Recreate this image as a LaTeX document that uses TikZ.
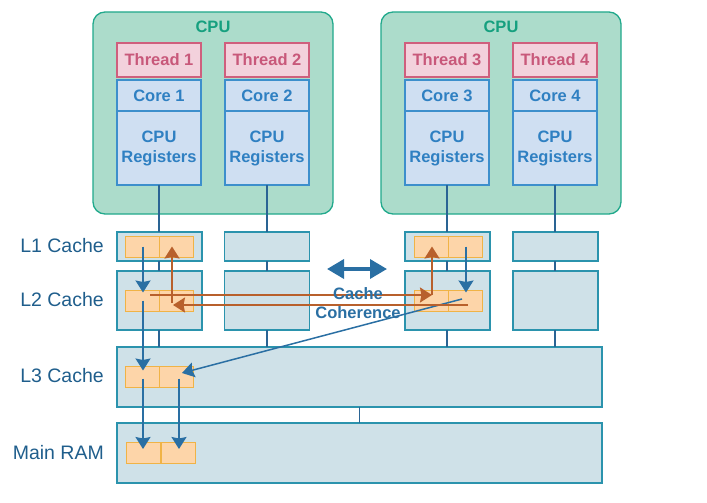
\documentclass[tikz,border=0pt]{standalone}
\usepackage{fontspec}
\setmainfont{Liberation Sans}
\usetikzlibrary{arrows.meta}
\definecolor{cpufill}{HTML}{ACDCCB}
\definecolor{cpuline}{HTML}{21A98C}
\definecolor{cputext}{HTML}{16A07F}
\definecolor{thrfill}{HTML}{F3D1DC}
\definecolor{thrline}{HTML}{CF5F7D}
\definecolor{thrtext}{HTML}{C8587A}
\definecolor{corefill}{HTML}{CFDFF2}
\definecolor{coreline}{HTML}{3D8FCC}
\definecolor{coretext}{HTML}{2F80C2}
\definecolor{cachefill}{HTML}{CFE1E8}
\definecolor{cacheline}{HTML}{2B93AD}
\definecolor{cellfill}{HTML}{FDD5A9}
\definecolor{cellline}{HTML}{F0B346}
\definecolor{arrblue}{HTML}{2A6FA3}
\definecolor{arrorange}{HTML}{B8602C}
\definecolor{wire}{HTML}{2A6494}
\definecolor{lbltext}{HTML}{1F5E8C}
\tikzset{
  box/.style = {draw, line width=1.3pt, inner sep=0pt, outer sep=0pt, font=\fontsize{16.5}{20}\selectfont\bfseries},
  cpu/.style = {box, draw=cpuline, fill=cpufill, rounded corners=12pt, minimum width=240pt, minimum height=202pt},
  thread/.style = {box, draw=thrline, fill=thrfill, text=thrtext, minimum width=84pt, minimum height=34pt},
  core/.style = {box, draw=coreline, fill=corefill, text=coretext, minimum width=84pt, minimum height=31pt},
  regs/.style = {core, minimum height=74pt, align=center},
  cache/.style = {box, draw=cacheline, fill=cachefill},
  cell/.style = {draw=cellline, fill=cellfill, line width=1pt, inner sep=0pt, minimum width=34pt, minimum height=21pt},
  level/.style = {anchor=east, inner sep=0pt, text=lbltext, font=\fontsize{19.5}{22}\selectfont},
  wires/.style = {draw=wire, line width=1.3pt},
  tip/.style = {-{Stealth[length=12pt, width=15pt, inset=1.5pt]}},
  bluearrow/.style = {draw=arrblue, line width=1.5pt, tip},
  orangearrow/.style = {draw=arrorange, line width=2pt, tip}
}
\begin{document}
\begin{tikzpicture}[x=1pt, y=-1pt]
\useasboundingbox (0,0) rectangle (707,503);
% processors
\node[cpu] (cpu1) at (213,113) {};
\node[cpu] (cpu2) at (501,113) {};
\node[text=cputext, font=\fontsize{16.5}{20}\selectfont\bfseries] (cpu1lbl) at (213,27) {CPU};
\node[text=cputext, font=\fontsize{16.5}{20}\selectfont\bfseries] (cpu2lbl) at (501,27) {CPU};
% threads, cores and registers
\node[thread] (t1) at (159,60) {Thread 1};
\node[thread] (t2) at (267,60) {Thread 2};
\node[thread] (t3) at (447,60) {Thread 3};
\node[thread] (t4) at (555,60) {Thread 4};
\node[core] (c1) at (159,95.5) {Core 1};
\node[core] (c2) at (267,95.5) {Core 2};
\node[core] (c3) at (447,95.5) {Core 3};
\node[core] (c4) at (555,95.5) {Core 4};
\node[regs] (r1) at (159,148) {CPU\\Registers};
\node[regs] (r2) at (267,148) {CPU\\Registers};
\node[regs] (r3) at (447,148) {CPU\\Registers};
\node[regs] (r4) at (555,148) {CPU\\Registers};
% caches
\node[cache, minimum width=85pt, minimum height=29pt] (l1n1) at (159.5,246.5) {};
\node[cache, minimum width=85pt, minimum height=29pt] (l1n2) at (267,246.5) {};
\node[cache, minimum width=85pt, minimum height=29pt] (l1n3) at (447.5,246.5) {};
\node[cache, minimum width=85pt, minimum height=29pt] (l1n4) at (555.5,246.5) {};
\node[cache, minimum width=85pt, minimum height=59pt] (l2n1) at (159.5,300.5) {};
\node[cache, minimum width=85pt, minimum height=59pt] (l2n2) at (267,300.5) {};
\node[cache, minimum width=85pt, minimum height=59pt] (l2n3) at (447.5,300.5) {};
\node[cache, minimum width=85pt, minimum height=59pt] (l2n4) at (555.5,300.5) {};
\node[cache, minimum width=485pt, minimum height=60pt] (l3) at (359.5,377) {};
\node[cache, minimum width=485pt, minimum height=60pt] (ram) at (359.5,453) {};
% wires
\draw[wires] (r1.south) -- (r1.south |- l1n1.north);
\draw[wires] (r2.south) -- (r2.south |- l1n2.north);
\draw[wires] (r3.south) -- (r3.south |- l1n3.north);
\draw[wires] (r4.south) -- (r4.south |- l1n4.north);
\draw[wires] (r1.south |- l1n1.south) -- (r1.south |- l2n1.north);
\draw[wires] (r2.south |- l1n2.south) -- (r2.south |- l2n2.north);
\draw[wires] (r3.south |- l1n3.south) -- (r3.south |- l2n3.north);
\draw[wires] (r4.south |- l1n4.south) -- (r4.south |- l2n4.north);
\draw[wires] (r1.south |- l2n1.south) -- (r1.south |- l3.north);
\draw[wires] (r2.south |- l2n2.south) -- (r2.south |- l3.north);
\draw[wires] (r3.south |- l2n3.south) -- (r3.south |- l3.north);
\draw[wires] (r4.south |- l2n4.south) -- (r4.south |- l3.north);
\draw[wires] (l3.south) -- (ram.north);
% cache lines
\node[cell] (l1a1) at (142,246.5) {};
\node[cell] (l1b1) at (176,246.5) {};
\node[cell] (l2a1) at (142,300.5) {};
\node[cell] (l2b1) at (176,300.5) {};
\node[cell] (l1a3) at (431,246.5) {};
\node[cell] (l1b3) at (465,246.5) {};
\node[cell] (l2a3) at (431,300.5) {};
\node[cell] (l2b3) at (465,300.5) {};
\node[cell] (l3a) at (142,376.5) {};
\node[cell] (l3b) at (176,376.5) {};
\node[cell] (rama) at (143.5,452.5) {};
\node[cell] (ramb) at (178,452.5) {};
% level labels
\node[level] (lvl1) at (104,246) {L1 Cache};
\node[level] (lvl2) at (104,300) {L2 Cache};
\node[level] (lvl3) at (104,376) {L3 Cache};
\node[level] (lvl4) at (104,453) {Main RAM};
% data movement
\draw[bluearrow] ([xshift=1pt]l1a1.center) -- ([xshift=1pt, yshift=-3pt]l2a1.north);
\draw[bluearrow] ([xshift=1pt]l2a1.center) -- ([xshift=1pt, yshift=-5pt]l3a.north);
\draw[bluearrow] ([xshift=1pt, yshift=-2pt]l3a.center) -- ([xshift=-0.5pt, yshift=3.5pt]rama.center);
\draw[bluearrow] ([xshift=3pt, yshift=-2pt]l3b.center) -- ([xshift=1pt, yshift=3.5pt]ramb.center);
\draw[bluearrow] ([xshift=1pt]l1b3.center) -- ([xshift=1pt, yshift=-3pt]l2b3.north);
\draw[bluearrow] ([xshift=-3pt, yshift=1.5pt]l2b3.center) -- ([xshift=6pt, yshift=3.5pt]l3b.center);
\coordinate (turn3) at ([xshift=1pt, yshift=5.5pt]l2a3.center);
\coordinate (turn1) at ([xshift=-4pt, yshift=-4.5pt]l2b1.center);
\draw[orangearrow] ([xshift=8pt, yshift=5.5pt]l2a1.center) -- (turn3);
\draw[orangearrow] (turn3) -- (turn3 |- l1a3.center);
\draw[orangearrow] ([xshift=3pt, yshift=-4.5pt]l2b3.center) -- ([xshift=1pt]turn1);
\draw[orangearrow] ([yshift=2pt]turn1) -- (turn1 |- l1b1.center);
% coherence
\coordinate (cohl) at (327,269);
\coordinate (cohr) at (387,269);
\draw[draw=arrblue, line width=3.5pt, {Triangle[length=17pt, width=19pt]}-{Triangle[length=17pt, width=19pt]}] (cohl) -- (cohr);
\node[text=arrblue, align=center, inner sep=0pt, font=\fontsize{16.5}{19}\selectfont\bfseries] (coh) at (358,303.5) {Cache\\Coherence};
\end{tikzpicture}
\end{document}
